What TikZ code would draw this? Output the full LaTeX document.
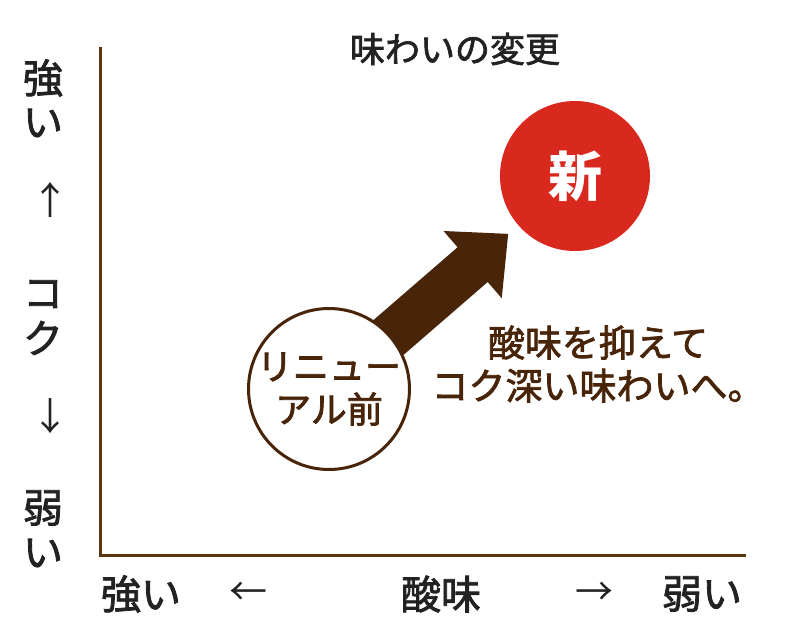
\documentclass[tikz,border=0pt]{standalone}
\usepackage{fontspec}
\newfontfamily\jp{Noto Sans CJK JP}
\newfontfamily\jpm[FakeBold=2]{Noto Sans CJK JP}
\usetikzlibrary{calc,backgrounds}
\definecolor{axisbrown}{RGB}{92,52,18}
\definecolor{darkbrown}{RGB}{72,36,8}
\definecolor{newred}{RGB}{217,41,31}
\definecolor{labelgray}{RGB}{34,34,34}
\begin{document}
\begin{tikzpicture}[x=1pt,y=-1pt,
  axislabel/.style={font=\jpm\fontsize{40}{44}\selectfont, text=labelgray, inner sep=0pt},
  axisarrow/.style={font=\jp\fontsize{38}{44}\selectfont, text=labelgray, inner sep=0pt},
  axisline/.style={draw=axisbrown, line width=3pt},
  oldbubble/.style={circle, draw=darkbrown, line width=3pt, fill=white, minimum size=156pt, inner sep=0pt,
    align=center, text=darkbrown, font=\jpm\fontsize{36}{43}\selectfont},
  newbubble/.style={circle, fill=newred, minimum size=150pt, inner sep=0pt, text=white,
    font=\jp\bfseries\fontsize{54}{60}\selectfont},
  note/.style={align=center, text=darkbrown, font=\jpm\fontsize{37}{43}\selectfont, inner sep=0pt},
  title/.style={font=\jpm\fontsize{35}{40}\selectfont, text=labelgray, inner sep=0pt}]
\useasboundingbox (0,0) rectangle (800,643);
% axes
\coordinate (top) at (100,47);
\coordinate (origin) at (100,555);
\coordinate (right) at (746,555);
\draw[axisline] (top) -- (origin) -- (right);
% title
\node[title] (ttl) at (455,49) {味わいの変更};
% vertical axis labels
\node[axislabel] (v1) at (43,78) {強};
\node[axislabel] (v2) at (43,123) {い};
\node[axisarrow] (v3) at (50,200) {↑};
\node[axislabel] (v4) at (43,294) {コ};
\node[axislabel] (v5) at (43,338) {ク};
\node[axisarrow] (v6) at (50,416) {↓};
\node[axislabel] (v7) at (43,508) {弱};
\node[axislabel] (v8) at (43,553) {い};
% horizontal axis labels
\node[axislabel] (h1) at (141,594) {強い};
\node[axisarrow] (h2) at (248,594) {←};
\node[axislabel] (h3) at (441,594) {酸味};
\node[axisarrow] (h4) at (594,594) {→};
\node[axislabel] (h5) at (702,594) {弱い};
% bubbles
\node[oldbubble] (old) at (329,389) {リニュー\\アル前};
\node[newbubble] (new) at (575,176) {新};
\node[note] (nt) at (598,364) {酸味を抑えて\\コク深い味わいへ。};
% big arrow
\begin{scope}[on background layer]
\coordinate (tip) at ($(old.center)!237pt!(new.center)$);
\coordinate (base) at ($(old.center)!190pt!(new.center)$);
\fill[darkbrown]
  ($(old.center)!23pt!90:(new.center)$) --
  ($(base)!23pt!90:(tip)$) --
  ($(base)!44.5pt!90:(tip)$) --
  (tip) --
  ($(base)!44.5pt!-90:(tip)$) --
  ($(base)!23pt!-90:(tip)$) --
  ($(old.center)!23pt!-90:(new.center)$) -- cycle;
\end{scope}
\end{tikzpicture}
\end{document}
